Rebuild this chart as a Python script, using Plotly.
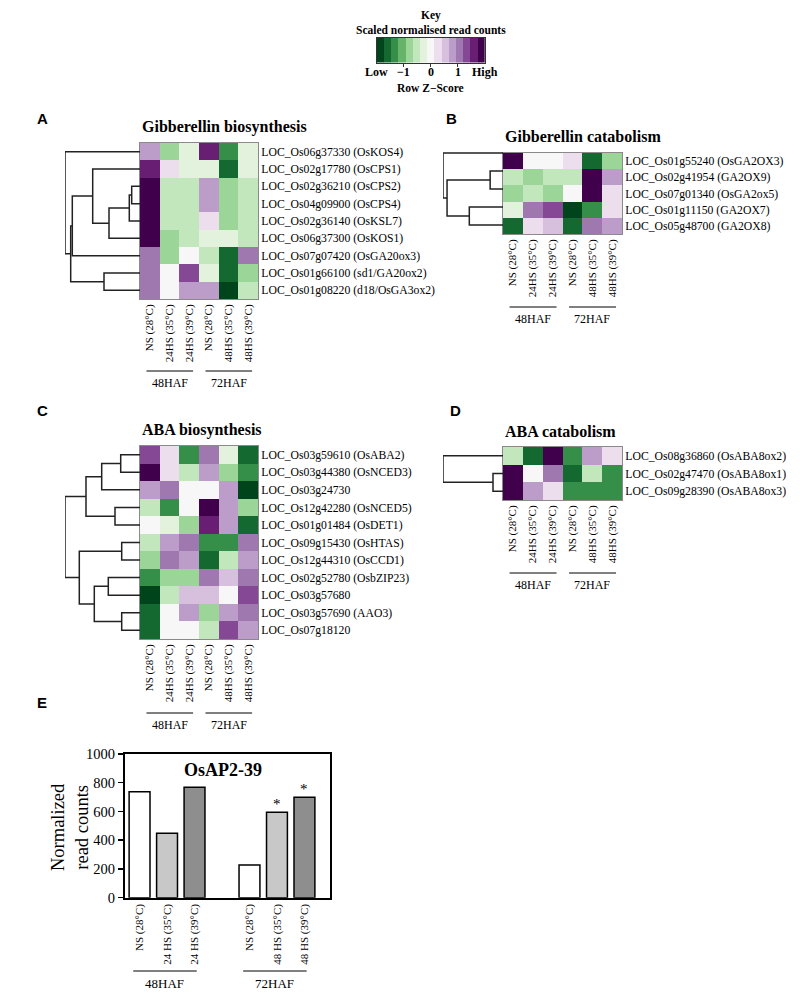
import plotly.graph_objects as go
import plotly.colors as pc

W, H = 800, 997

# ---------------- data ----------------
conditions = ["NS (28°C)", "24HS (35°C)", "24HS (39°C)", "NS (28°C)", "48HS (35°C)", "48HS (39°C)"]
groups = ["48HAF", "72HAF"]

genes_A = ["LOC_Os06g37330 (OsKOS4)", "LOC_Os02g17780 (OsCPS1)", "LOC_Os02g36210 (OsCPS2)",
           "LOC_Os04g09900 (OsCPS4)", "LOC_Os02g36140 (OsKSL7)", "LOC_Os06g37300 (OsKOS1)",
           "LOC_Os07g07420 (OsGA20ox3)", "LOC_Os01g66100 (sd1/GA20ox2)", "LOC_Os01g08220 (d18/OsGA3ox2)"]
z_A = [[0.9, -0.9, -0.3, 1.6, -1.3, -0.3],
       [1.6, 0.3, -0.3, -0.3, -1.6, -0.3],
       [2.0, -0.6, -0.6, 0.7, -0.9, -0.6],
       [2.0, -0.6, -0.6, 0.7, -0.9, -0.6],
       [2.0, -0.6, -0.6, 0.3, -0.9, -0.6],
       [2.0, -0.9, -0.6, -0.3, -0.3, -0.6],
       [1.2, -0.9, 0.0, -0.6, -1.6, 1.2],
       [1.2, 0.0, 1.4, -0.3, -1.6, -0.9],
       [1.2, 0.0, 0.7, 0.7, -2.0, -0.6]]
link_A = [(2, 3, 8.3), (9, 4, 10.7), (10, 5, 31.0), (11, 1, 47.3), (12, 6, 67.7),
          (7, 8, 36.0), (13, 14, 69.3), (0, 15, 75.0)]

genes_B = ["LOC_Os01g55240 (OsGA2OX3)", "LOC_Os02g41954 (GA2OX9)", "LOC_Os07g01340 (OsGA2ox5)",
           "LOC_Os01g11150 (GA2OX7)", "LOC_Os05g48700 (GA2OX8)"]
z_B = [[2.0, 0.0, 0.0, 0.3, -1.5, -0.9],
       [-0.6, -0.9, -0.6, -0.6, 2.0, 0.7],
       [-0.9, -0.6, -0.9, 0.0, 2.0, 0.3],
       [-0.3, 1.1, 1.4, -1.8, -1.3, 0.3],
       [-1.5, 0.3, 0.6, -1.5, 1.1, 0.9]]
link_B = [(1, 2, 12.7), (3, 4, 33.3), (5, 6, 55.3), (0, 7, 59.3)]

genes_C = ["LOC_Os03g59610 (OsABA2)", "LOC_Os03g44380 (OsNCED3)", "LOC_Os03g24730",
           "LOC_Os12g42280 (OsNCED5)", "LOC_Os01g01484 (OsDET1)", "LOC_Os09g15430 (OsHTAS)",
           "LOC_Os12g44310 (OsCCD1)", "LOC_Os02g52780 (OsbZIP23)", "LOC_Os03g57680",
           "LOC_Os03g57690 (AAO3)", "LOC_Os07g18120"]
z_C = [[1.4, 0.3, -1.3, 1.1, -0.3, -1.5],
       [2.0, 0.3, -0.6, 0.7, -0.9, -1.3],
       [0.7, 1.1, 0.0, 0.0, 0.7, -2.0],
       [-0.6, -1.3, 0.0, 2.0, 0.7, -0.9],
       [0.0, -0.3, -0.9, 1.6, 0.9, -1.5],
       [-0.6, 0.9, 1.1, -1.3, -1.3, 1.1],
       [-0.9, 1.1, 0.9, -1.5, -0.6, 0.9],
       [-1.3, -0.9, -0.9, 1.1, 0.6, 1.1],
       [-2.0, -0.6, 0.6, 0.6, 0.0, 1.4],
       [-1.7, 0.0, 0.9, -0.9, 0.9, 1.1],
       [-1.7, 0.0, 0.0, -0.6, 1.4, 0.9]]
link_C = [(0, 1, 19.3), (11, 2, 38.3), (3, 4, 25.0), (12, 13, 54.0), (5, 6, 18.3),
          (7, 8, 31.7), (9, 10, 18.3), (16, 17, 45.7), (15, 18, 60.7), (14, 19, 75.0)]

genes_D = ["LOC_Os08g36860 (OsABA8ox2)", "LOC_Os02g47470 (OsABA8ox1)", "LOC_Os09g28390 (OsABA8ox3)"]
z_D = [[-0.6, -1.5, 2.0, -1.3, 0.9, 0.3],
       [2.0, 0.0, 1.1, -1.5, -0.6, -1.3],
       [2.0, 0.9, 0.3, -1.3, -1.3, -1.3]]
link_D = [(1, 2, 10.0), (0, 3, 60.0)]

bar_labels = ["NS (28°C)", "24 HS (35°C)", "24 HS (39°C)", "NS (28°C)", "48 HS (35°C)", "48 HS (39°C)"]
bar_values = [737, 448, 768, 228, 594, 699]
bar_signif = [False, False, False, False, True, True]
bar_positions = [0, 1, 2, 4, 5, 6]
key_ticks = [-1, 0, 1]
key_labels = ["Low", "−1", "0", "1", "High"]
key_label_pos = [-2, -1, 0, 1, 2]

# ---------------- styling helpers ----------------
SERIF = "Liberation Serif"
SANS = "Liberation Sans"

scale = pc.get_colorscale("PRGn")
NB = 15
cols15 = pc.sample_colorscale(scale, [i / (NB - 1) for i in range(NB)], colortype="rgb")[::-1]
cs = []
for i, c in enumerate(cols15):
    cs.append([i / NB, c])
    cs.append([(i + 1) / NB, c])


def dx(a, b):
    return [a / W, b / W]


def dy(top, bottom):
    return [1 - bottom / H, 1 - top / H]


def py(p):
    return 1 - p / H


fig = go.Figure()
count = [0]


def new_axes(xdom, ydom, xkw, ykw):
    count[0] += 1
    i = count[0]
    s = "" if i == 1 else str(i)
    fig.update_layout(**{"xaxis" + s: dict(domain=xdom, anchor="y" + s, automargin=False, **xkw),
                         "yaxis" + s: dict(domain=ydom, anchor="x" + s, automargin=False, **ykw)})
    return "x" + s, "y" + s


def dendro_xy(n, links):
    pos = {i: float(i) for i in range(n)}
    hgt = {i: 0.0 for i in range(n)}
    xs, ys = [], []
    for k, (a, b, h) in enumerate(links):
        xs += [hgt[a], h, h, hgt[b], None]
        ys += [pos[a], pos[a], pos[b], pos[b], None]
        pos[n + k] = (pos[a] + pos[b]) / 2
        hgt[n + k] = h
    return xs, ys


annotations = []
shapes = []


def panel(genes, z, links, hm_box, dend_box, title, group_line_y):
    n = len(genes)
    x0, x1, y0, y1 = hm_box
    xa, ya = new_axes(
        dx(x0, x1), dy(y0, y1),
        dict(range=[-0.5, 5.5], tickmode="array", tickvals=list(range(6)), ticktext=conditions,
             tickangle=-90, showline=True, mirror=True, linecolor="#8a8a8a", linewidth=1,
             ticks="", showgrid=False, zeroline=False, fixedrange=True,
             tickfont=dict(family=SERIF, size=11, color="black")),
        dict(range=[n - 0.5, -0.5], tickmode="array", tickvals=list(range(n)), ticktext=genes,
             side="right", showline=True, mirror=True, linecolor="#8a8a8a", linewidth=1,
             ticks="", showgrid=False, zeroline=False, fixedrange=True,
             tickfont=dict(family=SERIF, size=11.7, color="black")))
    fig.add_trace(go.Heatmap(z=z, x=list(range(6)), y=list(range(n)), colorscale=cs,
                             zmin=-2, zmax=2, showscale=False, xaxis=xa, yaxis=ya,
                             hoverinfo="skip"))
    dx0, dx1, dy0, dy1 = dend_box
    root = max(l[2] for l in links)
    xd, yd = new_axes(
        dx(dx0, dx1), dy(dy0, dy1),
        dict(range=[root, 0], visible=False, fixedrange=True),
        dict(range=[n - 0.5, -0.5], visible=False, fixedrange=True))
    xs, ys = dendro_xy(n, links)
    fig.add_trace(go.Scatter(x=xs, y=ys, mode="lines", line=dict(color="#222222", width=1.5),
                             xaxis=xd, yaxis=yd, cliponaxis=False, hoverinfo="skip",
                             showlegend=False))
    annotations.append(dict(text="<b>" + title + "</b>", x=x0 / W, y=py(y0 - 16), xref="paper",
                            yref="paper", xanchor="left", yanchor="middle", showarrow=False,
                            font=dict(family=SERIF, size=16, color="black")))
    for gi, g in enumerate(groups):
        a, b = gi * 3, gi * 3 + 2
        shapes.append(dict(type="line", xref=xa, yref="paper", x0=a - 0.17, x1=b + 0.2,
                           y0=py(group_line_y), y1=py(group_line_y),
                           line=dict(color="black", width=1)))
        annotations.append(dict(text=g, x=(a + b) / 2, y=py(group_line_y + 12), xref=xa,
                                yref="paper", xanchor="center", yanchor="middle",
                                showarrow=False, font=dict(family=SERIF, size=12, color="black")))


panel(genes_A, z_A, link_A, (140, 258, 143, 299), (65, 140, 143, 299),
      "Gibberellin biosynthesis", 371)
panel(genes_B, z_B, link_B, (503, 622, 153, 234), (443, 503, 144, 234),
      "Gibberellin catabolism", 307)
panel(genes_C, z_C, link_C, (140, 258, 446, 639), (65, 140, 446, 639),
      "ABA biosynthesis", 713)
panel(genes_D, z_D, link_D, (503, 622, 447, 500), (443, 503, 447, 500),
      "ABA catabolism", 573)

# ---------------- colour key ----------------
bins = [-2 + (i + 0.5) * 4 / NB for i in range(NB)]
xk, yk = new_axes(dx(376.7, 485), dy(38, 62.5),
                  dict(range=[-2, 2], tickmode="array", tickvals=key_ticks, showticklabels=False,
                       ticks="outside", ticklen=3, tickcolor="#333", showline=True, mirror=True,
                       linecolor="#333", linewidth=1, showgrid=False, zeroline=False,
                       fixedrange=True),
                  dict(range=[-0.5, 0.5], showticklabels=False, ticks="", showline=True,
                       mirror=True, linecolor="#333", linewidth=1, showgrid=False,
                       zeroline=False, fixedrange=True))
fig.add_trace(go.Heatmap(z=[bins], x=bins, y=[0], colorscale=cs, zmin=-2, zmax=2,
                         showscale=False, xaxis=xk, yaxis=yk, hoverinfo="skip"))
for txt, xv in zip(key_labels, key_label_pos):
    annotations.append(dict(text="<b>" + txt + "</b>", x=xv, y=py(72), xref=xk, yref="paper",
                            xanchor="center", yanchor="middle", showarrow=False,
                            font=dict(family=SERIF, size=12, color="black")))
for txt, yp in (("Key", 15), ("Scaled normalised read counts", 30), ("Row Z−Score", 88)):
    annotations.append(dict(text="<b>" + txt + "</b>", x=431 / W, y=py(yp), xref="paper",
                            yref="paper", xanchor="center", yanchor="middle", showarrow=False,
                            font=dict(family=SERIF, size=11.5, color="black")))

# ---------------- bar chart E ----------------
xe, ye = new_axes(dx(125, 330), dy(754, 897.7),
                  dict(range=[-0.53, 6.93], tickmode="array", tickvals=bar_positions,
                       ticktext=bar_labels, tickangle=-90, ticks="", showline=True, mirror=True,
                       linecolor="black", linewidth=2, showgrid=False, zeroline=False,
                       fixedrange=True, tickfont=dict(family=SERIF, size=11, color="black")),
                  dict(range=[0, 1000], tickmode="array", tickvals=[0, 200, 400, 600, 800, 1000],
                       ticks="outside", ticklen=5, tickwidth=1.5, tickcolor="black",
                       showline=True, mirror=True, linecolor="black", linewidth=2,
                       showgrid=False, zeroline=False, fixedrange=True,
                       tickfont=dict(family=SERIF, size=14.5, color="black")))
bar_colors = ["white", "#c8c8c8", "#8e8e8e", "white", "#c8c8c8", "#8e8e8e"]
fig.add_trace(go.Bar(x=bar_positions, y=bar_values, width=0.76, xaxis=xe, yaxis=ye,
                     marker=dict(color=bar_colors, line=dict(color="black", width=1.5)),
                     showlegend=False, hoverinfo="skip"))
for p, v, s in zip(bar_positions, bar_values, bar_signif):
    if s:
        annotations.append(dict(text="*", x=p, y=v, xref=xe, yref=ye, xanchor="center",
                                yanchor="bottom", showarrow=False, yshift=-2,
                                font=dict(family=SERIF, size=15, color="black")))
annotations.append(dict(text="<b>OsAP2-39</b>", x=222.7 / W, y=py(770), xref="paper",
                        yref="paper", xanchor="center", yanchor="middle", showarrow=False,
                        font=dict(family=SERIF, size=18, color="black")))
annotations.append(dict(text="Normalized<br>read counts", x=70 / W, y=py(827), xref="paper",
                        yref="paper", xanchor="center", yanchor="middle", showarrow=False,
                        textangle=-90, font=dict(family=SERIF, size=18.5, color="black")))
for gi, g in enumerate(groups):
    a, b = bar_positions[gi * 3], bar_positions[gi * 3 + 2]
    shapes.append(dict(type="line", xref=xe, yref="paper", x0=a - 0.23, x1=b + 0.08,
                       y0=py(971), y1=py(971), line=dict(color="black", width=1)))
    annotations.append(dict(text=g, x=(a + b) / 2 - 0.08, y=py(983), xref=xe, yref="paper",
                            xanchor="center", yanchor="middle", showarrow=False,
                            font=dict(family=SERIF, size=13, color="black")))

# ---------------- panel letters ----------------
for letter, xp, ypx in (("A", 42, 118), ("B", 452, 118), ("C", 42, 410), ("D", 456, 410),
                        ("E", 42, 702)):
    annotations.append(dict(text="<b>" + letter + "</b>", x=xp / W, y=py(ypx), xref="paper",
                            yref="paper", xanchor="center", yanchor="middle", showarrow=False,
                            font=dict(family=SANS, size=15, color="black")))

fig.update_layout(width=W, height=H, margin=dict(l=0, r=0, t=0, b=0, autoexpand=False),
                  paper_bgcolor="white", plot_bgcolor="white", showlegend=False,
                  annotations=annotations, shapes=shapes)

fig.write_html("out.html", config={"displayModeBar": False, "staticPlot": True},
               post_script="document.body.style.margin='0';document.body.style.padding='0';"
                           "document.body.style.overflow='hidden';")
